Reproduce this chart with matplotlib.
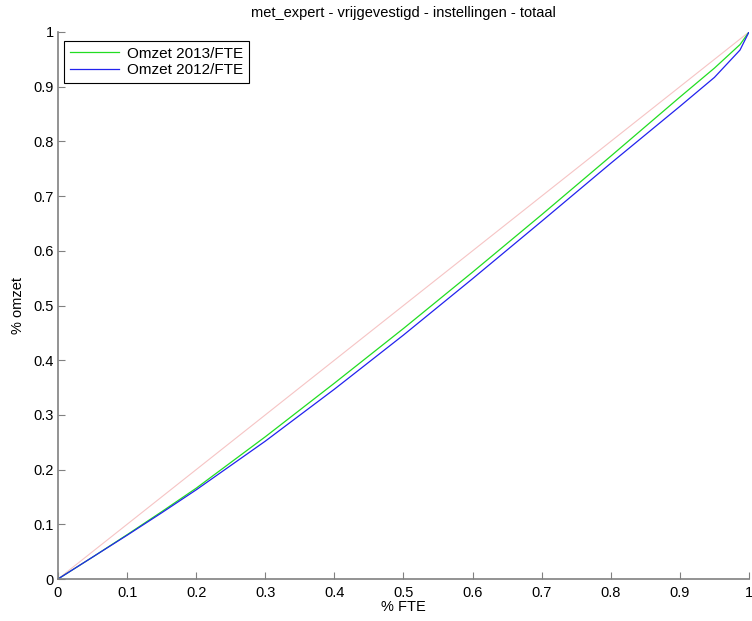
import matplotlib
matplotlib.use("Agg")
import matplotlib.pyplot as plt

# cumulative share of FTE vs cumulative share of revenue
fte = [0, 0.05, 0.1, 0.15, 0.2, 0.3, 0.4, 0.5, 0.6, 0.7, 0.8, 0.9, 0.95, 0.987, 1.0]
omzet_2013 = [0, 0.040, 0.081, 0.123, 0.166, 0.260, 0.358, 0.458, 0.561, 0.666, 0.773, 0.881, 0.934, 0.977, 1.0]
omzet_2012 = [0, 0.040, 0.080, 0.121, 0.163, 0.252, 0.347, 0.446, 0.549, 0.654, 0.760, 0.864, 0.917, 0.967, 1.0]
diag = [0, 1]

plt.rcParams["font.family"] = ["Liberation Sans", "DejaVu Sans"]
fig = plt.figure(figsize=(7.52, 6.21), dpi=100)
ax = fig.add_axes([0.0771, 0.0676, 0.9189, 0.8809])

ax.plot(diag, diag, color="#f6c4c4", lw=0.8)
ax.plot(fte, omzet_2013, color="#22dd22", lw=0.9, label="Omzet 2013/FTE")
ax.plot(fte, omzet_2012, color="#2222ee", lw=0.9, label="Omzet 2012/FTE")

ax.set_xlim(0, 1); ax.set_ylim(0, 1)
ticks = [i / 10 for i in range(11)]
labels = ["0"] + [f"{t:g}" for t in ticks[1:-1]] + ["1"]
ax.set_xticks(ticks); ax.set_xticklabels(labels)
ax.set_yticks(ticks); ax.set_yticklabels(labels)
ax.tick_params(direction="in", length=5, width=0.8, color="#808080", labelsize=10.5, pad=3)
ax.tick_params(axis="x", pad=5)
for s in ("top", "right"):
    ax.spines[s].set_visible(False)
for s in ("left", "bottom"):
    ax.spines[s].set_color("#808080"); ax.spines[s].set_linewidth(1.2)

ax.set_title("met_expert - vrijgevestigd - instellingen - totaal", fontsize=10.5, pad=11)
ax.set_xlabel("% FTE", fontsize=10.5, labelpad=0)
ax.set_ylabel("% omzet", fontsize=10.5, labelpad=6)

leg = ax.legend(loc="upper left", bbox_to_anchor=(0.009, 0.984), fontsize=11, fancybox=False,
                framealpha=1, edgecolor="black", handlelength=3.2, borderpad=0.4,
                labelspacing=0.15, handletextpad=0.5, borderaxespad=0)
leg.get_frame().set_linewidth(0.8)

fig.savefig("out.png", dpi=100, facecolor="white")
